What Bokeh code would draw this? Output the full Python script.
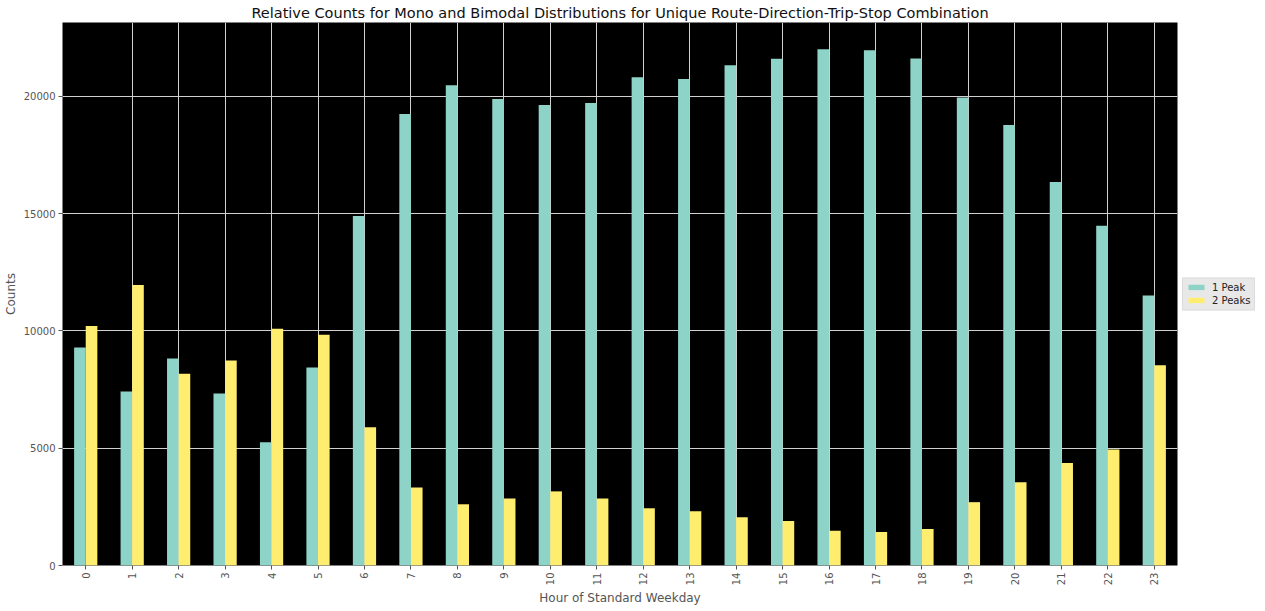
import math
from bokeh.plotting import figure
from bokeh.models import ColumnDataSource, FactorRange, Range1d, Legend, LegendItem, FixedTicker
from bokeh.transform import dodge
from bokeh.embed import file_html
from bokeh.resources import INLINE

# ---- data ----
hours = ["0", "1", "2", "3", "4", "5", "6", "7", "8", "9", "10", "11",
         "12", "13", "14", "15", "16", "17", "18", "19", "20", "21", "22", "23"]
one_peak = [9290, 7420, 8820, 7330, 5250, 8440, 14900, 19250, 20480, 19890, 19630, 19720,
            20820, 20740, 21330, 21600, 22010, 21970, 21620, 19950, 18780, 16350, 14480, 11510]
two_peaks = [10210, 11960, 8180, 8740, 10090, 9840, 5890, 3330, 2610, 2860, 3160, 2860,
             2440, 2310, 2060, 1900, 1480, 1430, 1560, 2700, 3550, 4370, 4950, 8540]
series_names = ["1 Peak", "2 Peaks"]
y_ticks = [0, 5000, 10000, 15000, 20000]

title_text = "Relative Counts for Mono and Bimodal Distributions for Unique Route-Direction-Trip-Stop Combination"

src = ColumnDataSource(dict(hour=hours, one=one_peak, two=two_peaks))

FONT = "DejaVu Sans"
TICK_COLOR = "#555555"

p = figure(frame_width=1115, frame_height=543, x_range=FactorRange(*hours, range_padding=0),
           y_range=Range1d(0, 23150), output_backend="svg", toolbar_location=None,
           title=title_text, min_border_left=56, min_border_right=0,
           min_border_top=15, min_border_bottom=36)

p.background_fill_color = "black"
p.border_fill_color = "white"
p.outline_line_color = None

p.title.align = "center"
p.title.text_font = FONT
p.title.text_font_size = "14.5px"
p.title.text_font_style = "normal"
p.title.text_color = "#111111"
p.title.standoff = 4

r1 = p.vbar(x=dodge("hour", -0.125, range=p.x_range), top="one", width=0.25, source=src,
            fill_color="#8DD3C7", line_color=None)
r2 = p.vbar(x=dodge("hour", 0.125, range=p.x_range), top="two", width=0.25, source=src,
            fill_color="#FFED6F", line_color=None)

for g in (p.xgrid[0], p.ygrid[0]):
    g.grid_line_color = "#d0d0d0"
    g.grid_line_width = 1

p.yaxis.ticker = FixedTicker(ticks=y_ticks)
for ax in (p.xaxis[0], p.yaxis[0]):
    ax.axis_line_color = None
    ax.major_tick_line_color = TICK_COLOR
    ax.major_tick_out = 4
    ax.major_tick_in = 0
    ax.minor_tick_line_color = None
    ax.major_label_text_font = FONT
    ax.major_label_text_font_size = "10px"
    ax.major_label_text_color = TICK_COLOR
    ax.major_label_standoff = 3
    ax.axis_label_text_font = FONT
    ax.axis_label_text_font_size = "12px"
    ax.axis_label_text_font_style = "normal"
    ax.axis_label_text_color = TICK_COLOR
    ax.axis_label_standoff = 3

p.xaxis.axis_label = "Hour of Standard Weekday"
p.yaxis.axis_label = "Counts"
p.xaxis.major_label_orientation = math.pi / 2

legend = Legend(items=[LegendItem(label=series_names[0], renderers=[r1]),
                       LegendItem(label=series_names[1], renderers=[r2])],
                location="center_left", margin=5, padding=3, spacing=1,
                glyph_width=20, glyph_height=7, label_height=12, label_standoff=6,
                label_text_font=FONT, label_text_font_size="10px", label_text_color="#222222",
                background_fill_color="#e8e8e8", background_fill_alpha=1.0,
                border_line_color="#d0d0d0")
p.add_layout(legend, "right")

open("out.html", "w").write(file_html(p, INLINE))
